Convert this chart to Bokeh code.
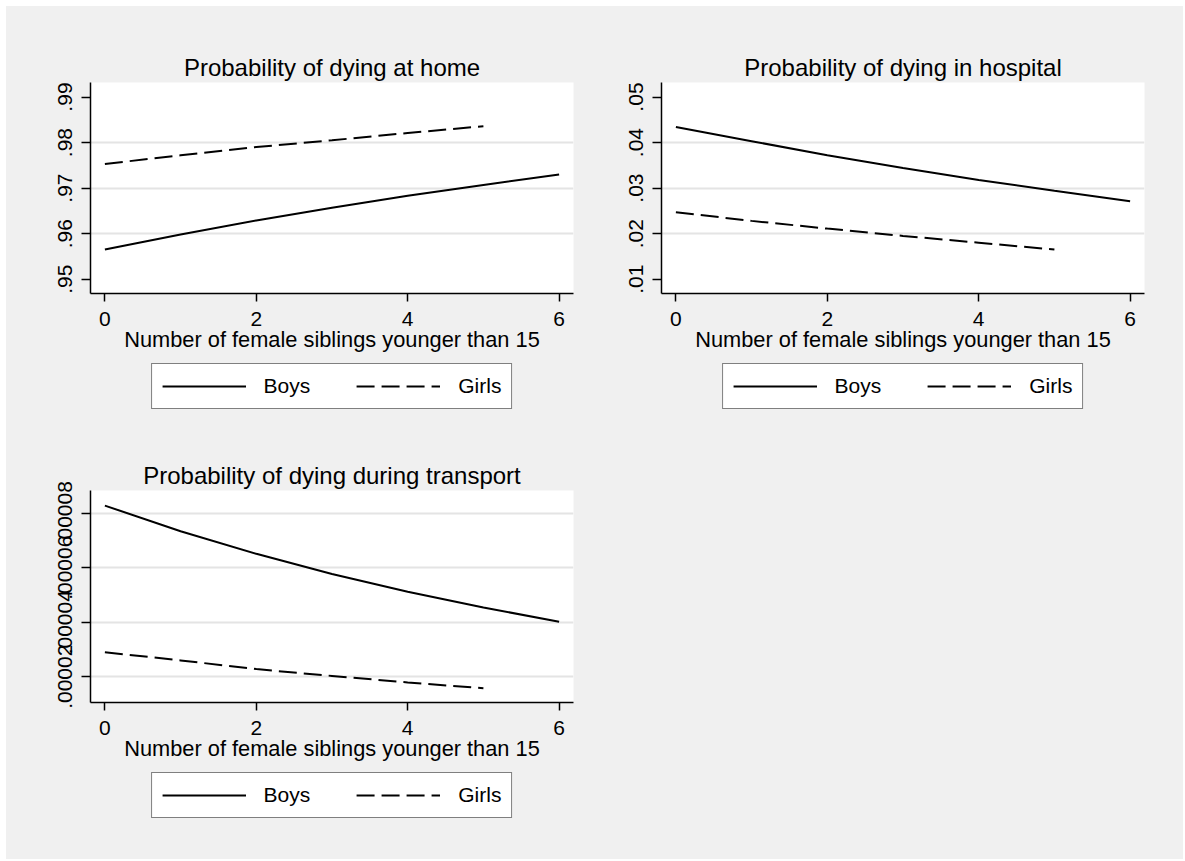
from bokeh.plotting import figure
from bokeh.models import Legend, FixedTicker, Range1d, Spacer
from bokeh.layouts import column, row
from bokeh.embed import file_html
from bokeh.resources import INLINE

# ---- data ----
x_boys = [0, 1, 2, 3, 4, 5, 6]
x_girls = [0, 1, 2, 3, 4, 5]

home_boys = [0.9565, 0.9598, 0.9629, 0.9657, 0.9683, 0.9707, 0.9730]
home_girls = [0.9753, 0.9772, 0.9790, 0.9805, 0.9821, 0.9836]

hosp_boys = [0.0434, 0.0403, 0.0372, 0.0344, 0.0318, 0.0294, 0.0271]
hosp_girls = [0.0247, 0.0228, 0.0211, 0.0195, 0.0180, 0.0165]

trans_boys = [8.28e-5, 7.34e-5, 6.51e-5, 5.77e-5, 5.12e-5, 4.54e-5, 4.02e-5]
trans_girls = [2.90e-5, 2.60e-5, 2.28e-5, 2.03e-5, 1.79e-5, 1.58e-5]

titles = ["Probability of dying at home",
          "Probability of dying in hospital",
          "Probability of dying during transport"]
x_label = "Number of female siblings younger than 15"
x_ticks = [0, 2, 4, 6]
series_names = ["Boys", "Girls"]

home_ticks = [0.95, 0.96, 0.97, 0.98, 0.99]
home_labels = [".95", ".96", ".97", ".98", ".99"]
hosp_ticks = [0.01, 0.02, 0.03, 0.04, 0.05]
hosp_labels = [".01", ".02", ".03", ".04", ".05"]
trans_ticks = [2e-5, 4e-5, 6e-5, 8e-5]
trans_labels = [".00002", ".00004", ".00006", ".00008"]

BG = "#f0f0f0"
FONT = "Liberation Sans"
X_RANGE = (-0.19, 6.19)
DASH = "18 7"


def make_panel(title, yb, yg, yticks, ylabels, grid_ticks, yrange,
               width, height, left, right, top, bottom):
    p = figure(width=width, height=height, output_backend="svg",
               toolbar_location=None,
               x_range=Range1d(*X_RANGE),
               y_range=Range1d(*yrange),
               min_border_left=left, min_border_right=right,
               min_border_top=top, min_border_bottom=bottom)
    p.background_fill_color = "white"
    p.border_fill_color = BG
    p.outline_line_color = None

    p.title.text = title
    p.title.align = "center"
    p.title.text_font = FONT
    p.title.text_font_size = "24px"
    p.title.text_font_style = "normal"
    p.title.text_color = "black"
    p.title.standoff = 4

    p.line(x_boys, yb, line_color="black", line_width=2)
    p.line(x_girls, yg, line_color="black", line_width=2, line_dash=DASH)

    p.xgrid.visible = False
    p.ygrid.ticker = FixedTicker(ticks=grid_ticks)
    p.ygrid.grid_line_color = "#e4e4e4"
    p.ygrid.grid_line_width = 2

    xa = p.xaxis[0]
    xa.ticker = FixedTicker(ticks=x_ticks)
    xa.minor_tick_line_color = None
    xa.major_tick_in = 0
    xa.major_tick_out = 8
    xa.major_tick_line_width = 1.5
    xa.axis_line_width = 1.5
    xa.axis_line_color = "black"
    xa.major_tick_line_color = "black"
    xa.major_label_text_font = FONT
    xa.major_label_text_font_size = "21px"
    xa.major_label_text_color = "black"
    xa.major_label_standoff = 10
    xa.axis_label = x_label
    xa.axis_label_text_font = FONT
    xa.axis_label_text_font_size = "21.8px"
    xa.axis_label_text_font_style = "normal"
    xa.axis_label_text_color = "black"
    xa.axis_label_standoff = -2

    ya = p.yaxis[0]
    ya.ticker = FixedTicker(ticks=yticks)
    ya.major_label_overrides = {t: l for t, l in zip(yticks, ylabels)}
    ya.minor_tick_line_color = None
    ya.major_tick_in = 0
    ya.major_tick_out = 9
    ya.major_tick_line_width = 1.5
    ya.axis_line_width = 1.5
    ya.axis_line_color = "black"
    ya.major_tick_line_color = "black"
    ya.major_label_orientation = "vertical"
    ya.major_label_text_font = FONT
    ya.major_label_text_font_size = "21px"
    ya.major_label_text_color = "black"
    ya.major_label_standoff = 9
    return p


def make_legend(yb, yg, width, height, left, right, margin):
    # legend strip under a panel; its lines lie outside the visible range
    q = figure(width=width, height=height, output_backend="svg",
               toolbar_location=None, x_axis_location=None,
               y_axis_location=None,
               x_range=Range1d(*X_RANGE), y_range=Range1d(-3.0, -2.0),
               min_border_left=left, min_border_right=right,
               min_border_top=0, min_border_bottom=0)
    q.background_fill_color = BG
    q.border_fill_color = BG
    q.outline_line_color = None
    q.grid.visible = False
    r1 = q.line(x_boys, yb, line_color="black", line_width=2)
    r2 = q.line(x_girls, yg, line_color="black", line_width=2, line_dash=DASH)
    legend = Legend(items=[(series_names[0], [r1]), (series_names[1], [r2])],
                    orientation="horizontal", location="top_center")
    legend.border_line_color = "black"
    legend.border_line_width = 1.5
    legend.background_fill_color = "white"
    legend.background_fill_alpha = 1.0
    legend.glyph_width = 84
    legend.glyph_height = 20
    legend.label_text_font = FONT
    legend.label_text_font_size = "21px"
    legend.label_text_color = "black"
    legend.label_standoff = 18
    legend.spacing = 46
    legend.padding = 10
    legend.margin = margin
    q.add_layout(legend, "center")
    return q


p1 = make_panel(titles[0], home_boys, home_girls, home_ticks, home_labels,
                [0.96, 0.97, 0.98], (0.94685, 0.99319),
                572, 357, 84, 5, 76, 70)
l1 = make_legend(home_boys, home_girls, 572, 51, 84, 5, 0)

p2 = make_panel(titles[1], hosp_boys, hosp_girls, hosp_ticks, hosp_labels,
                [0.02, 0.03, 0.04], (0.00685, 0.05319),
                605, 357, 83, 39, 76, 70)
l2 = make_legend(hosp_boys, hosp_girls, 605, 51, 83, 39, 0)

p3 = make_panel(titles[2], trans_boys, trans_girls, trans_ticks, trans_labels,
                trans_ticks, (1.055e-5, 8.834e-5),
                572, 357, 84, 5, 76, 69)
l3 = make_legend(trans_boys, trans_girls, 572, 88, 84, 5, 1)

filler = figure(width=605, height=445, output_backend="svg",
                toolbar_location=None, x_axis_location=None,
                y_axis_location=None, min_border=0)
filler.line(x_boys, home_boys, line_alpha=0)
filler.grid.visible = False
filler.outline_line_color = None
filler.background_fill_color = BG
filler.border_fill_color = BG

grid = column(row(column(p1, l1, styles={"background-color": BG}),
                  column(p2, l2, styles={"background-color": BG}),
                  styles={"background-color": BG}),
              row(column(p3, l3, styles={"background-color": BG}), filler,
                  styles={"background-color": BG}),
              styles={"background-color": BG})
layout = column(Spacer(width=1183, height=6),
                row(Spacer(width=6, height=853), grid))

open("out.html", "w").write(file_html(layout, INLINE))
